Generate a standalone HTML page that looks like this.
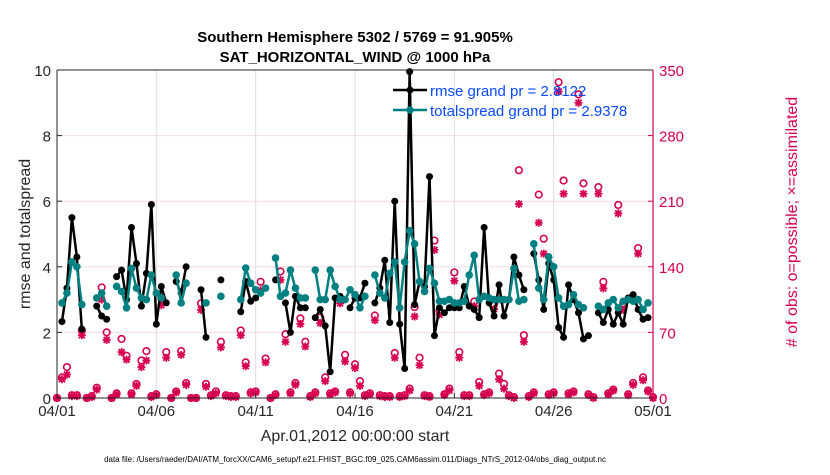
<!DOCTYPE html>
<html><head><meta charset="utf-8"><style>
body{margin:0;background:#fff;}
svg text{font-family:"Liberation Sans",sans-serif;}
</style></head><body>
<svg id="chart" width="830" height="470" xmlns="http://www.w3.org/2000/svg">
<rect width="830" height="470" fill="#fff"/>
<g id="grid"></g>
<g id="obs"></g>
<g id="lines"></g>
<g id="axes"></g>
<text x="355" y="42" text-anchor="middle" font-size="15" font-weight="bold">Southern Hemisphere 5302 / 5769 = 91.905%</text>
<text x="355" y="62" text-anchor="middle" font-size="15" font-weight="bold">SAT_HORIZONTAL_WIND @ 1000 hPa</text>
<text x="355" y="441" text-anchor="middle" font-size="16" fill="#262626">Apr.01,2012 00:00:00 start</text>
<text x="355" y="462" text-anchor="middle" font-size="8" fill="#000">data file: /Users/raeder/DAI/ATM_forcXX/CAM6_setup/f.e21.FHIST_BGC.f09_025.CAM6assim.011/Diags_NTrS_2012-04/obs_diag_output.nc</text>
<text transform="translate(30,234) rotate(-90)" text-anchor="middle" font-size="16" fill="#262626">rmse and totalspread</text>
<text transform="translate(797,222) rotate(-90)" text-anchor="middle" font-size="16" fill="#d6004f"># of obs: o=possible; ×=assimilated</text>
<g>
<line x1="393" y1="90" x2="427" y2="90" stroke="#000" stroke-width="2.5"/>
<circle cx="410" cy="90" r="3.5" fill="#000"/>
<text x="430" y="96" font-size="15" fill="#0a4bff">rmse grand pr = 2.8122</text>
<line x1="393" y1="110" x2="427" y2="110" stroke="#008080" stroke-width="2.5"/>
<circle cx="410" cy="110" r="3.8" fill="#008080"/>
<text x="430" y="116" font-size="15" fill="#0a4bff">totalspread grand pr = 2.9378</text>
</g>
</svg>
<script>
const N=null;
const rmse=[N,2.33,3.35,5.5,4.3,2.1,N,N,2.8,2.5,2.4,N,3.7,3.9,3.0,5.2,4.1,2.8,3.8,5.9,2.25,3.4,2.9,N,3.55,3.2,4.0,N,N,3.3,1.85,N,N,3.6,N,N,N,2.63,3.55,2.95,3.05,N,N,N,3.6,N,2.9,2.0,3.1,2.75,2.75,N,2.45,2.7,2.2,0.8,3.05,3.1,N,2.75,3.05,3.05,3.5,N,2.9,3.35,4.2,2.3,6.0,2.25,0.9,9.95,2.85,3.55,3.4,6.75,1.9,2.75,2.6,2.75,2.75,2.75,3.4,2.8,2.7,2.45,5.2,2.9,2.5,3.45,2.5,3.0,4.3,3.75,3.3,N,4.4,3.6,2.7,4.1,3.6,2.15,1.85,3.45,3.0,2.6,1.8,1.9,N,2.6,2.3,2.7,2.25,2.6,2.25,3.05,3.15,2.7,2.4,2.45,N];
const spread=[N,2.9,3.2,4.15,4.0,2.85,N,N,3.05,3.2,2.8,N,3.4,3.25,2.75,3.95,3.35,3.05,3.0,3.75,3.2,3.05,N,N,3.75,2.9,3.5,N,N,N,2.9,N,N,3.1,N,N,N,3.0,3.96,3.5,3.3,3.2,3.35,N,4.27,3.1,3.2,3.9,3.35,3.05,3.05,N,3.9,3.0,3.0,3.9,3.4,3.0,3.0,3.3,3.15,2.75,3.1,N,3.75,3.2,3.05,3.8,4.15,2.75,4.15,5.1,4.7,3.55,3.25,3.95,3.5,2.95,2.95,3.0,2.9,2.9,2.95,3.75,4.35,3.0,3.1,3.05,3.0,3.0,3.0,3.0,3.95,2.95,3.0,N,4.7,3.35,3.0,4.3,4.0,3.05,2.8,2.85,3.15,2.85,2.75,N,N,2.8,2.7,2.9,3.0,2.75,2.95,3.0,2.95,3.0,2.7,2.9,N];
const assim=[0,20,25,2,2,67,0,1,9,105,62,0,4,49,41,4,13,33,40,1,3,99,43,0,6,46,14,0,0,94,12,2,5,54,2,1,1,67,34,5,6,115,38,0,3,126,60,5,14,79,55,1,5,80,18,4,6,101,39,5,32,13,2,4,83,2,1,1,43,1,2,8,87,35,2,1,158,89,3,8,125,43,2,2,98,13,3,5,95,20,10,2,0,207,60,1,5,187,154,3,5,327,218,4,6,315,218,3,0,218,117,4,8,197,94,3,14,154,19,7,0];
const possible=[0,22,33,3,3,72,0,2,11,118,70,0,5,63,45,5,15,40,50,2,4,106,49,0,7,50,16,0,0,101,15,3,7,60,3,2,2,72,38,6,7,124,42,0,4,135,68,6,16,85,60,2,6,86,22,5,7,105,46,6,36,18,3,5,88,3,2,2,48,2,3,10,97,43,3,2,168,93,4,10,134,49,3,3,103,17,4,6,100,26,15,3,1,243,67,2,6,217,170,4,6,337,232,5,7,324,229,4,1,225,124,5,9,206,101,4,16,160,22,8,1];
const xTicks=["04/01","04/06","04/11","04/16","04/21","04/26","05/01"];
const yTicks=[0,2,4,6,8,10];
const y2Ticks=[0,70,140,210,280,350];

const NS="http://www.w3.org/2000/svg";
const L=57,R=653,T=70,B=398,nSteps=120;
const xs=i=>L+(R-L)*i/nSteps;
const ys=v=>B-(B-T)*v/10;
const y2s=v=>B-(B-T)*v/350;
function mk(tag,attrs,parent){const e=document.createElementNS(NS,tag);for(const k in attrs)e.setAttribute(k,attrs[k]);parent.appendChild(e);return e;}
const grid=document.getElementById('grid'),obs=document.getElementById('obs'),lines=document.getElementById('lines'),axes=document.getElementById('axes');
mk('rect',{x:L,y:T,width:R-L,height:B-T,fill:'#fff'},grid);
y2Ticks.forEach((t,k)=>{if(k>0&&k<y2Ticks.length-1){const g=mk('line',{x1:L,x2:R,y1:y2s(t),y2:y2s(t),stroke:'#f3dbe4','stroke-width':1},grid);

}});
xTicks.forEach((t,k)=>{const x=xs(k*20);if(k>0&&k<xTicks.length-1){const g=mk('line',{x1:x,x2:x,y1:T,y2:B,stroke:'#dcdcdc','stroke-width':1},grid);

}
const tx=mk('text',{x:x,y:B+18,'text-anchor':'middle','font-size':15,fill:'#262626'},axes);tx.textContent=t;


mk('line',{x1:x,x2:x,y1:B,y2:B-5,stroke:'#262626'},axes);});
yTicks.forEach(t=>{const tx=mk('text',{x:L-6,y:ys(t)+6,'text-anchor':'end','font-size':15,fill:'#262626'},axes);tx.textContent=t;


mk('line',{x1:L,x2:L+5,y1:ys(t),y2:ys(t),stroke:'#262626'},axes);});
y2Ticks.forEach(t=>{const tx=mk('text',{x:R+6,y:y2s(t)+6,'font-size':15,fill:'#d6004f'},axes);tx.textContent=t;


mk('line',{x1:R,x2:R-5,y1:y2s(t),y2:y2s(t),stroke:'#d6004f'},axes);});
mk('line',{x1:L,x2:R,y1:T,y2:T,stroke:'#262626'},axes);
mk('line',{x1:L,x2:R,y1:B,y2:B,stroke:'#262626'},axes);
mk('line',{x1:L,x2:L,y1:T,y2:B,stroke:'#262626'},axes);
mk('line',{x1:R,x2:R,y1:T,y2:B,stroke:'#d6004f','stroke-width':1.2},axes);
possible.forEach((v,i)=>{const c=mk('circle',{cx:xs(i),cy:y2s(v),r:3.3,fill:'none',stroke:'#d6004f','stroke-width':1.6},obs);

});
assim.forEach((v,i)=>{const x=xs(i),y=y2s(v);const g=mk('g',{stroke:'#d6004f','stroke-width':1.8},obs);


mk('line',{x1:x-4,x2:x+4,y1:y,y2:y},g);mk('line',{x1:x,x2:x,y1:y-4,y2:y+4},g);
mk('line',{x1:x-3,x2:x+3,y1:y-3,y2:y+3},g);mk('line',{x1:x-3,x2:x+3,y1:y+3,y2:y-3},g);});
function series(arr,color,r,name){let d='',pen=false;arr.forEach((v,i)=>{if(v===null){pen=false;return;}d+=(pen?'L':'M')+xs(i)+' '+ys(v)+' ';pen=true;});
const p=mk('path',{d:d,fill:'none',stroke:color,'stroke-width':2.5,'stroke-linejoin':'round'},lines);


arr.forEach((v,i)=>{if(v===null)return;const c=mk('circle',{cx:xs(i),cy:ys(v),r:r,fill:color},lines);

});}
series(rmse,'#000',3.5,'rmse');
series(spread,'#008080',3.8,'totalspread');
</script>
</body></html>
